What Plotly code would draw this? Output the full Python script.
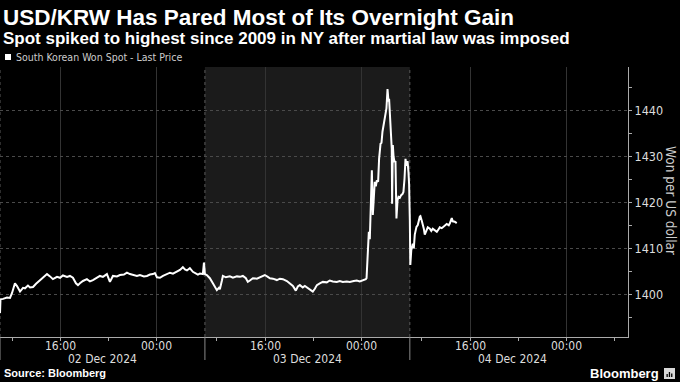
import plotly.graph_objects as go

# Session-hour positions (11:00 -> 04:00 sessions, 17h per day panel) and prices
hours = [0.00, 0.04, 0.25, 0.58, 0.83, 1.00, 1.24, 1.41, 1.66, 1.91, 2.07, 2.32, 2.49, 2.74, 2.99,
         3.32, 3.57, 3.90, 4.15, 4.39, 4.73, 4.98, 5.22, 5.56, 5.80, 6.05, 6.30, 6.47, 6.63, 6.88,
         7.21, 7.46, 7.71, 8.04, 8.29, 8.54, 8.87, 9.12, 9.37, 9.70, 9.95, 10.28, 10.53, 10.78, 11.03,
         11.36, 11.61, 11.94, 12.19, 12.44, 12.69, 12.85, 13.02, 13.27, 13.52, 13.85, 14.10, 14.35,
         14.68, 14.93, 15.17, 15.34, 15.51, 15.75, 16.00, 16.25, 16.42, 16.58, 16.83, 16.92, 17.00,
         17.16, 17.41, 17.66, 17.83, 17.99, 18.16, 18.24, 18.41, 18.49, 18.74, 19.07, 19.32, 19.65,
         19.90, 20.15, 20.40, 20.56, 20.73, 20.98, 21.31, 21.56, 21.81, 21.97, 22.22, 22.39, 22.64,
         22.97, 23.22, 23.47, 23.80, 24.05, 24.30, 24.54, 24.71, 24.88, 25.12, 25.29, 25.54, 25.70,
         25.95, 26.12, 26.29, 26.53, 26.78, 27.11, 27.36, 27.61, 27.94, 28.19, 28.44, 28.77, 29.02,
         29.35, 29.60, 29.85, 30.10, 30.35, 30.41, 30.54, 30.60, 30.68, 30.76, 30.85, 30.93, 31.01,
         31.09, 31.18, 31.26, 31.37, 31.45, 31.57, 31.65, 31.73, 31.87, 32.01, 32.06, 32.15, 32.23,
         32.28, 32.34, 32.42, 32.50, 32.53, 32.59, 32.65, 32.73, 32.81, 32.86, 32.89, 32.98, 33.06,
         33.17, 33.28, 33.39, 33.47, 33.56, 33.64, 33.72, 33.81, 33.89, 33.94, 34.00, 34.04, 34.12,
         34.25, 34.33, 34.41, 34.55, 34.66, 34.83, 34.88, 34.99, 35.07, 35.16, 35.24, 35.32, 35.41,
         35.49, 35.66, 35.78, 35.90, 36.07, 36.24, 36.40, 36.48, 36.65, 36.82, 37.06, 37.23, 37.31,
         37.48, 37.56, 37.73, 37.89]
price = [1395.9, 1398.9, 1399.0, 1399.3, 1399.2, 1400.3, 1402.4, 1401.8, 1400.6, 1401.4, 1401.3,
         1401.9, 1401.5, 1401.6, 1402.3, 1403.1, 1403.5, 1404.4, 1403.9, 1403.3, 1403.8, 1403.6,
         1404.1, 1403.8, 1404.0, 1403.6, 1402.4, 1402.0, 1402.4, 1402.9, 1403.3, 1402.8, 1403.1,
         1403.7, 1404.0, 1403.8, 1404.4, 1402.7, 1404.0, 1403.9, 1404.2, 1404.3, 1404.7, 1404.4,
         1404.2, 1404.0, 1404.2, 1403.9, 1404.0, 1404.3, 1404.4, 1404.6, 1403.7, 1403.6, 1404.0,
         1404.3, 1404.7, 1404.5, 1404.9, 1405.3, 1405.9, 1405.4, 1405.2, 1405.7, 1404.9, 1404.6,
         1404.3, 1404.5, 1404.4, 1406.9, 1404.4,
         1404.2, 1403.5, 1402.4, 1401.5, 1400.9, 1401.4, 1401.1, 1403.0, 1404.0, 1403.7, 1403.9,
         1403.6, 1403.9, 1403.8, 1404.0, 1403.5, 1402.7, 1403.0, 1403.5, 1403.4, 1403.7, 1403.9,
         1404.2, 1403.8, 1403.5, 1403.4, 1403.1, 1403.4, 1403.3, 1402.9, 1402.4, 1401.8, 1400.8,
         1401.7, 1402.0, 1401.5, 1401.8, 1401.4, 1401.1, 1400.6, 1401.2, 1402.0, 1402.4, 1402.7,
         1402.6, 1403.0, 1402.8, 1402.7, 1402.9, 1402.7, 1402.8, 1402.7, 1402.9, 1403.0, 1402.8,
         1403.0, 1403.3, 1403.5, 1410.0, 1413.6, 1412.0, 1417.2, 1427.0, 1417.3, 1423.0, 1424.5,
         1423.5, 1424.8, 1424.5, 1429.5, 1432.8, 1433.0, 1435.4, 1437.5, 1439.0, 1440.5, 1444.7,
         1442.0, 1442.6, 1439.0, 1436.8, 1431.7, 1419.7, 1432.5, 1430.0, 1428.8, 1429.0, 1424.0,
         1416.5, 1420.5, 1421.2, 1421.0, 1421.6, 1421.8, 1422.3, 1425.2, 1429.5, 1428.0, 1429.0,
         1426.5, 1424.0, 1416.2, 1406.4, 1409.6, 1411.0, 1410.0, 1413.0, 1414.7, 1415.1, 1416.9,
         1417.0, 1416.0, 1415.3, 1414.3, 1413.0, 1413.5, 1414.2, 1414.6, 1414.3, 1413.8, 1414.3,
         1414.0, 1413.6, 1414.2, 1414.6, 1414.4, 1414.8, 1415.3, 1415.0, 1415.4, 1416.6, 1415.9,
         1415.8, 1415.5]

tick_hours = [5, 13, 22, 30, 39, 47]
tick_labels = ["16:00", "00:00", "16:00", "00:00", "16:00", "00:00"]
minor_hours = [1, 9, 18, 26, 35, 43, 51]
day_bounds = [0, 17, 34]
day_centers = [8.5, 25.5, 42.5]
day_labels = ["02 Dec 2024", "03 Dec 2024", "04 Dec 2024"]
y_ticks = [1400, 1410, 1420, 1430, 1440]

SMALL = "Liberation Sans Narrow, DejaVu Sans Condensed, Liberation Sans, sans-serif"
BOLD = "Liberation Sans, Arial, sans-serif"

# plot area: x 0..628 px, y 67..337 px
PW, PT, PB = 628.0, 67.0, 337.0
def px(x):
    return x / PW
def py(y):
    return (PB - y) / (PB - PT)

fig = go.Figure()
fig.add_trace(go.Scatter(x=hours, y=price, mode="lines",
                         line=dict(color="white", width=2),
                         name="South Korean Won Spot - Last Price",
                         showlegend=False, hoverinfo="skip"))

shapes = []
shapes.append(dict(type="rect", xref="x", yref="paper", x0=day_bounds[1], x1=day_bounds[2],
                   y0=0, y1=1, fillcolor="#1b1b1b", line=dict(width=0), layer="below"))
for b in day_bounds:
    shapes.append(dict(type="line", xref="x", yref="paper", x0=b, x1=b, y0=0, y1=1,
                       line=dict(color="#5a5a5a", width=1, dash="3px,3px"), layer="between"))
    shapes.append(dict(type="line", xref="x", yref="paper", x0=b, x1=b, y0=0, y1=py(360),
                       line=dict(color="#8a8a8a", width=1)))
# Bloomberg icon
shapes.append(dict(type="rect", xref="paper", yref="paper", x0=px(664), x1=px(675),
                   y0=py(379), y1=py(368), fillcolor="#d8d8d8", line=dict(width=0)))
for bx0, btop in [(666.5, 374), (668.8, 372), (671.1, 373.5)]:
    shapes.append(dict(type="rect", xref="paper", yref="paper", x0=px(bx0), x1=px(bx0 + 1.3),
                       y0=py(377), y1=py(btop), fillcolor="black", line=dict(width=0)))
# legend square
shapes.append(dict(type="rect", xref="paper", yref="paper", x0=px(5), x1=px(11),
                   y0=py(60), y1=py(54), fillcolor="white", line=dict(width=0)))

annotations = []
for c, lbl in zip(tick_hours, tick_labels):
    annotations.append(dict(x=c, y=py(345.5), xref="x", yref="paper", text=lbl,
                            showarrow=False, xanchor="center", yanchor="middle",
                            font=dict(family=SMALL, size=12, color="#dddddd")))
for c, lbl in zip(day_centers, day_labels):
    annotations.append(dict(x=c, y=py(358.5), xref="x", yref="paper", text=lbl,
                            showarrow=False, xanchor="center", yanchor="middle",
                            font=dict(family=SMALL, size=12, color="#dddddd")))
annotations += [
    dict(x=px(1), y=py(18), xref="paper", yref="paper",
         text="<b>USD/KRW Has Pared Most of Its Overnight Gain</b>",
         showarrow=False, xanchor="left", yanchor="middle", font=dict(family=BOLD, size=22.5, color="white")),
    dict(x=px(1), y=py(38), xref="paper", yref="paper",
         text="<b>Spot spiked to highest since 2009 in NY after martial law was imposed</b>",
         showarrow=False, xanchor="left", yanchor="middle", font=dict(family=BOLD, size=17, color="white")),
    dict(x=px(14), y=py(57), xref="paper", yref="paper", text="South Korean Won Spot - Last Price",
         showarrow=False, xanchor="left", yanchor="middle", font=dict(family=SMALL, size=10.5, color="#cccccc")),
    dict(x=px(671), y=py(200), xref="paper", yref="paper", text="Won per US dollar", textangle=90,
         showarrow=False, xanchor="center", yanchor="middle", font=dict(family=SMALL, size=13.5, color="#cccccc")),
    dict(x=px(2), y=py(373), xref="paper", yref="paper", text="<b>Source: Bloomberg</b>",
         showarrow=False, xanchor="left", yanchor="middle", font=dict(family=BOLD, size=11, color="white")),
    dict(x=px(661), y=py(373), xref="paper", yref="paper", text="<b>Bloomberg</b>",
         showarrow=False, xanchor="right", yanchor="middle", font=dict(family=BOLD, size=13, color="white")),
]

fig.update_layout(
    width=680, height=382,
    margin=dict(l=0, r=52, t=67, b=45, autoexpand=False),
    paper_bgcolor="black", plot_bgcolor="black",
    shapes=shapes, annotations=annotations,
    xaxis=dict(range=[0, 52.1], tickmode="array", tickvals=tick_hours, showticklabels=False,
               showgrid=True, gridcolor="#333333", gridwidth=1,
               ticks="outside", ticklen=3, tickcolor="#aaaaaa",
               showline=True, linecolor="#aaaaaa", linewidth=1, zeroline=False,
               minor=dict(tickmode="array", tickvals=minor_hours, ticks="outside",
                          ticklen=3, tickcolor="#aaaaaa", showgrid=False),
               fixedrange=True),
    yaxis=dict(range=[1390.7, 1449.5], side="right", tickmode="array", tickvals=y_ticks,
               showgrid=True, gridcolor="#4a4a4a", griddash="dot", gridwidth=1,
               ticks="outside", ticklen=3, tickcolor="#aaaaaa",
               showline=True, linecolor="#aaaaaa", linewidth=1, zeroline=False,
               tickfont=dict(family=SMALL, size=12.5, color="#dddddd"),
               minor=dict(dtick=5, tick0=1395, ticks="outside", ticklen=3,
                          tickcolor="#aaaaaa", showgrid=False),
               fixedrange=True),
)

fig.write_html("out.html", config={"displayModeBar": False},
               post_script="document.body.style.margin='0';document.body.style.background='black';")
